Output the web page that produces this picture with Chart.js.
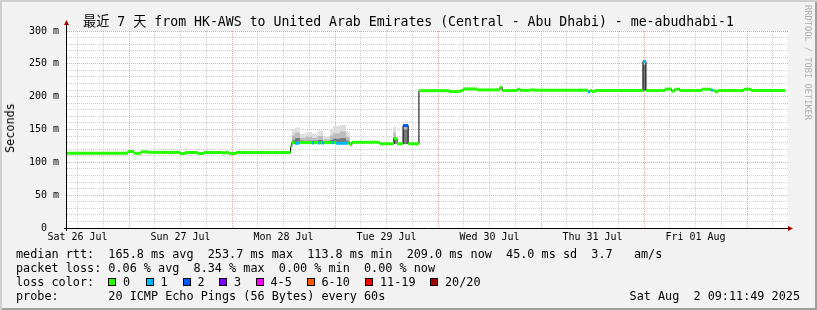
<!DOCTYPE html>
<html>
<head>
<meta charset="utf-8">
<script src="https://cdn.jsdelivr.net/npm/chart.js@4.4.1/dist/chart.umd.min.js"></script>
<style>
  html, body { margin: 0; padding: 0; background: #f2f2f2; }
  #wrap { position: relative; width: 817px; height: 310px; background: #f2f2f2; overflow: hidden;
          font-family: "DejaVu Sans Mono", "Noto Sans CJK SC", monospace; color: #000; }
  #chart { position: absolute; left: 0; top: 0; }
  #frame { position: absolute; left: 0; top: 0; width: 817px; height: 310px; pointer-events: none;
           box-shadow: inset 2px 2px 0 #cfcfcf, inset -2px -2px 0 #9e9e9e; }
  .t { position: absolute; white-space: pre; font-size: 11.8px; line-height: 14px; }
  #title { position: absolute; left: 0; top: 14px; width: 817px; text-align: center; font-size: 13.2px; line-height: 16px; white-space: pre; }
  #ylab { position: absolute; left: 10px; top: 128px; font-size: 11.8px; line-height: 14px; transform: translate(-50%, -50%) rotate(-90deg); }
  #mark { position: absolute; left: 803px; top: 5px; writing-mode: vertical-rl; font-size: 8.7px; color: #b0b0b0; white-space: pre; }
  .box { position: absolute; width: 6px; height: 6px; border: 1px solid #000; }
</style>
</head>
<body>
<div id="wrap">
  <canvas id="chart" width="817" height="310"></canvas>
  <div id="title">最近 7 天 from HK-AWS to United Arab Emirates (Central - Abu Dhabi) - me-abudhabi-1</div>
  <div id="ylab">Seconds</div>
  <div id="mark">RRDTOOL / TOBI OETIKER</div>
  <div class="t" style="left:16px;top:247px">median rtt:  165.8 ms avg  253.7 ms max  113.8 ms min  209.0 ms now  45.0 ms sd  3.7   am/s</div>
  <div class="t" style="left:16px;top:261px">packet loss: 0.06 % avg  8.34 % max  0.00 % min  0.00 % now</div>
  <div class="t" style="left:16px;top:275px">loss color:</div>
  <div id="legend"></div>
  <div class="t" style="left:16px;top:289px">probe:       20 ICMP Echo Pings (56 Bytes) every 60s</div>
  <div class="t" style="right:17px;top:289px">Sat Aug  2 09:11:49 2025</div>
  <div id="frame"></div>
</div>
<script>
// time axis in hours from the left edge of the graph (Sat 26 Jul ~09:33)
const totalHours = 168;
const firstMidday = 2.45;
const dayLabels = ["Sat 26 Jul", "Sun 27 Jul", "Mon 28 Jul", "Tue 29 Jul", "Wed 30 Jul", "Thu 31 Jul", "Fri 01 Aug"];

// loss legend
const lossLabels = ["0", "1", "2", "3", "4-5", "6-10", "11-19", "20/20"];
const lossColors = ["#26ff00", "#00b8ff", "#0059ff", "#7e00ff", "#ff00ff", "#ff5500", "#ff0000", "#a10000"];
const legendX = [108, 145.5, 182.5, 219, 255.5, 306.5, 365, 430];

// median rtt (ms) as runs: start hour, value, lost pings
const runStart = [0, 14.2, 15.6, 17.2, 18.9, 26.3, 27.5, 30.5, 31.9, 36.3, 36.8, 37.7, 39.4,
  52.1, 52.4, 53.1, 54.1, 57.1, 57.5, 58.5, 59.0, 59.4, 59.9, 61.7, 62.2, 62.7, 65.5, 65.9, 66.4,
  72.9, 76.2, 76.9, 78.3, 79.5, 82.0, 89.0, 91.6, 92.3, 95.5, 100.9, 101.4, 104.9, 105.6, 107.9, 109.0,
  121.4, 121.8, 122.3, 123.0, 134.2, 134.9, 139.3, 140.9, 141.6, 142.8, 147.9, 150.0, 150.5, 151.0,
  151.7, 157.7, 159.4];
const runValue = [113.8, 116.5, 113.8, 116.0, 115.2, 113.5, 115.0, 113.5, 115.0, 114.0, 115.0, 113.5, 115.0,
  124.0, 130.0, 129.0, 130.0, 129.5, 130.0, 129.5, 130.0, 129.5, 130.0, 130.0, 130.0, 129.0, 130.0, 127.0, 130.5,
  128.3, 136.0, 128.3, 156.0, 128.3, 209.1, 207.8, 209.1, 211.8, 210.3, 214.5, 209.3, 211.3, 209.6, 210.3, 209.6,
  207.0, 209.1, 208.0, 209.3, 253.7, 209.3, 211.5, 208.5, 211.3, 209.3, 211.3, 210.0, 209.3, 207.5,
  209.3, 211.3, 209.3];
const runLoss = [0, 0, 0, 0, 0, 0, 0, 0, 0, 0, 0, 0, 0,
  0, 0, 1, 0, 1, 0, 1, 0, 1, 0, 1, 0, 1, 0, 0, 0,
  0, 0, 0, 2, 0, 0, 0, 0, 0, 0, 0, 0, 0, 0, 0, 0,
  1, 0, 0, 0, 1, 0, 0, 0, 0, 0, 0, 1, 0, 0,
  0, 0, 0];
const lastHour = 167.3;

// smoke (spread of the 20 pings), ms
const smokeStart = [52.4, 53.1, 54.3, 55.5, 57.1, 58.3, 59.7, 61.3, 62.0, 63.6, 65.0, 76.0, 78.3, 134.2];
const smokeEnd   = [53.1, 54.3, 55.5, 57.1, 58.3, 59.7, 61.3, 62.0, 63.6, 65.0, 65.9, 76.7, 79.5, 134.9];
const smokeLow   = [128, 128, 128, 128, 128, 128, 128, 128, 128, 128, 128, 128, 128, 209];
const smokeDark  = [134, 137, 133, 133, 133, 134, 132, 134, 136, 137, 133, 138, 150, 248];
const smokeMid   = [141, 145, 137, 139, 137, 140, 135, 141, 144, 147, 139, 145, 154, 252];
const smokeMax   = [151, 153, 143, 146, 144, 148, 140, 149, 155, 157, 147, 154, 157, 255];

const minorGrid = "rgba(150,150,150,0.45)";
const majorGrid = "rgba(225,110,110,0.6)";

// legend boxes
const legendEl = document.getElementById("legend");
lossLabels.forEach((lab, i) => {
  const b = document.createElement("div");
  b.className = "box";
  b.style.left = legendX[i] + "px";
  b.style.top = "278px";
  b.style.background = lossColors[i];
  legendEl.appendChild(b);
  const t = document.createElement("div");
  t.className = "t";
  t.style.left = (legendX[i] + 15) + "px";
  t.style.top = "275px";
  t.textContent = lab;
  legendEl.appendChild(t);
});

// build point lists
const medianPts = runStart.map((s, i) => ({ x: s, y: runValue[i] }));
medianPts.push({ x: lastHour, y: runValue[runValue.length - 1] });

const lossPts = [];
const lossIdx = [];
runStart.forEach((s, i) => {
  const e = i + 1 < runStart.length ? runStart[i + 1] : lastHour;
  lossPts.push({ x: s, y: runValue[i] }, { x: e, y: runValue[i] }, { x: e, y: null });
  lossIdx.push(runLoss[i], runLoss[i], runLoss[i]);
});

function band(vals) {
  const pts = [];
  smokeStart.forEach((s, i) => {
    pts.push({ x: s, y: vals[i] }, { x: smokeEnd[i], y: vals[i] }, { x: smokeEnd[i], y: null });
  });
  return pts;
}

function isDayBoundary(v) {
  const k = (v - firstMidday - 12) / 24;
  return Math.abs(k - Math.round(k)) < 1e-6;
}

const framePlugin = {
  id: "frame",
  beforeDraw(chart) {
    const a = chart.chartArea;
    const ctx = chart.ctx;
    ctx.save();
    ctx.fillStyle = "#fff";
    ctx.fillRect(a.left, a.top, a.right - a.left, a.bottom - a.top);
    ctx.restore();
  },
  afterDraw(chart) {
    const a = chart.chartArea;
    const ctx = chart.ctx;
    ctx.save();
    ctx.strokeStyle = "#000";
    ctx.lineWidth = 1;
    ctx.beginPath();
    ctx.moveTo(a.left - 3, a.bottom + 0.5);
    ctx.lineTo(a.right + 3, a.bottom + 0.5);
    ctx.moveTo(a.left - 0.5, a.bottom + 3);
    ctx.lineTo(a.left - 0.5, a.top - 7);
    ctx.stroke();
    ctx.fillStyle = "#a00000";
    ctx.beginPath();
    ctx.moveTo(a.left - 3, a.top - 6);
    ctx.lineTo(a.left + 2, a.top - 6);
    ctx.lineTo(a.left - 0.5, a.top - 11);
    ctx.closePath();
    ctx.fill();
    ctx.beginPath();
    ctx.moveTo(a.right, a.bottom - 2);
    ctx.lineTo(a.right, a.bottom + 3);
    ctx.lineTo(a.right + 5, a.bottom + 0.5);
    ctx.closePath();
    ctx.fill();
    ctx.restore();
  }
};

const axisFont = { family: "DejaVu Sans Mono", size: 10 };

new Chart(document.getElementById("chart"), {
  type: "line",
  data: {
    datasets: [
      { data: band(smokeLow), borderWidth: 0, pointRadius: 0, fill: false, order: 6, spanGaps: false },
      { data: band(smokeMax), borderWidth: 0, pointRadius: 0, fill: 0, backgroundColor: "#dedede", order: 5, spanGaps: false },
      { data: band(smokeMid), borderWidth: 0, pointRadius: 0, fill: 0, backgroundColor: "#bcbcbc", order: 4, spanGaps: false },
      { data: band(smokeDark), borderWidth: 0, pointRadius: 0, fill: 0, backgroundColor: "#7a7a7a", order: 3, spanGaps: false },
      { data: medianPts, borderColor: "#000", borderWidth: 1, pointRadius: 0, stepped: true, fill: false, order: 2 },
      {
        data: lossPts, borderWidth: 3, pointRadius: 0, fill: false, spanGaps: false, order: 1,
        borderCapStyle: "butt",
        borderColor: lossColors[0],
        segment: { borderColor: (c) => lossColors[lossIdx[c.p0DataIndex]] }
      }
    ]
  },
  options: {
    responsive: false,
    animation: false,
    events: [],
    layout: { padding: { top: 31, right: 29, bottom: 0, left: 0 } },
    plugins: { legend: { display: false }, tooltip: { enabled: false }, title: { display: false } },
    scales: {
      x: {
        type: "linear",
        min: 0,
        max: totalHours,
        afterBuildTicks: (s) => {
          const t = [];
          for (let k = 0; firstMidday + 6 * k < totalHours; k++) t.push({ value: firstMidday + 6 * k });
          s.ticks = t;
        },
        afterFit: (s) => { s.height = 82; },
        ticks: {
          autoSkip: false, maxRotation: 0, padding: 3, color: "#000", font: axisFont,
          callback: (v) => {
            const k = (v - firstMidday) / 24;
            return Math.abs(k - Math.round(k)) < 1e-6 ? dayLabels[Math.round(k)] : "";
          }
        },
        grid: { drawTicks: false, lineWidth: 1, color: (c) => (isDayBoundary(c.tick.value) ? majorGrid : minorGrid) },
        border: { display: false, dash: [1, 1] }
      },
      y: {
        min: 0,
        max: 300,
        afterBuildTicks: (s) => {
          const t = [];
          for (let v = 0; v <= 300; v += 10) t.push({ value: v });
          s.ticks = t;
        },
        afterFit: (s) => { s.width = 67; },
        ticks: {
          autoSkip: false, padding: 8, color: "#000", font: axisFont,
          callback: (v) => (v % 50 ? "" : v === 0 ? "0  " : v + " m")
        },
        grid: {
          drawTicks: false, lineWidth: 1,
          color: (c) => (c.tick.value === 0 ? "rgba(0,0,0,0)" : c.tick.value % 50 === 0 ? majorGrid : minorGrid)
        },
        border: { display: false, dash: [1, 1] }
      }
    }
  },
  plugins: [framePlugin]
});
</script>
</body>
</html>
